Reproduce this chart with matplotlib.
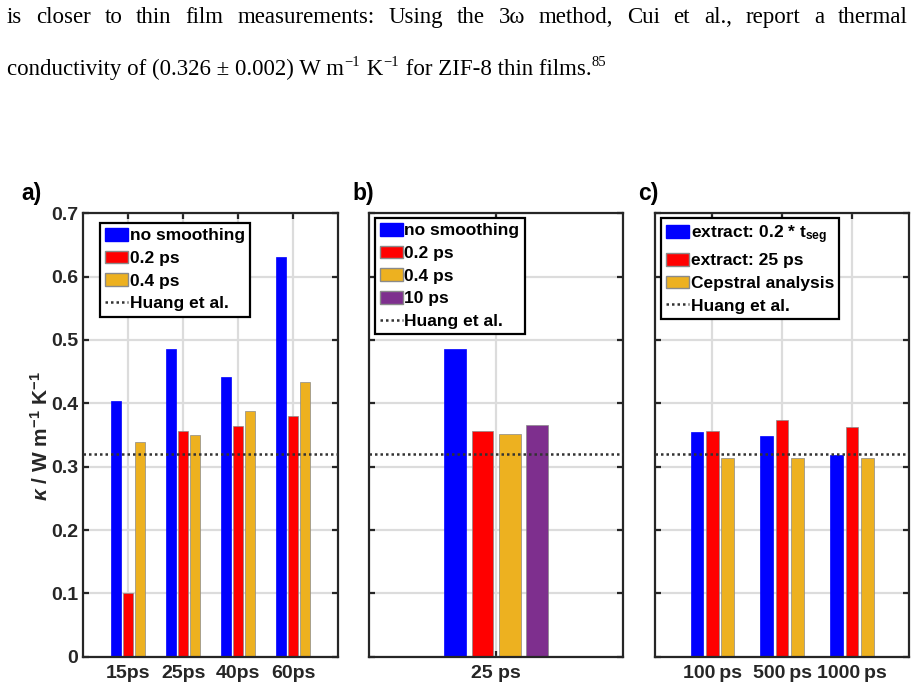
import matplotlib
matplotlib.use("Agg")
import matplotlib.pyplot as plt
import numpy as np
from matplotlib.patches import Patch
from matplotlib.lines import Line2D

plt.rcParams["font.family"] = ["Liberation Sans", "DejaVu Sans"]
plt.rcParams["font.weight"] = "bold"
plt.rcParams["mathtext.fontset"] = "custom"
plt.rcParams["mathtext.rm"] = "Liberation Sans:bold"
plt.rcParams["mathtext.it"] = "Liberation Sans:italic"
plt.rcParams["mathtext.bf"] = "Liberation Sans:bold"

# ---- data ----
labels_a = ["15ps", "25ps", "40ps", "60ps"]
no_smooth_a = [0.403, 0.486, 0.442, 0.631]
smooth02_a = [0.100, 0.356, 0.364, 0.380]
smooth04_a = [0.339, 0.350, 0.388, 0.433]

labels_b = ["25 ps"]
series_b = [0.486, 0.356, 0.351, 0.366]  # no smoothing, 0.2 ps, 0.4 ps, 10 ps

labels_c = ["100\u2009ps", "500\u2009ps", "1000\u2009ps"]
extract_frac_c = [0.354, 0.349, 0.318]
extract_25_c = [0.356, 0.373, 0.362]
cepstral_c = [0.314, 0.313, 0.314]

huang = 0.32

blue = "#0000FF"
red = "#FF0000"
yellow = "#EDB120"
purple = "#7E2F8E"
axcol = "#262626"
edge = "#8a8a8a"

W, H = 919, 693
fig = plt.figure(figsize=(W / 100, H / 100), dpi=100)
fig.patch.set_facecolor("white")

bottom = (H - 656.7) / H
height = (656.7 - 213.3) / H
ax_a = fig.add_axes([83.3 / W, bottom, 254.7 / W, height])
ax_b = fig.add_axes([369.3 / W, bottom, 254.0 / W, height])
ax_c = fig.add_axes([655.0 / W, bottom, 254.3 / W, height])


def style(ax, ticks, ticklabels, show_y):
    ax.set_ylim(0, 0.7)
    ax.set_yticks(np.arange(0, 0.71, 0.1))
    ax.set_yticklabels(["0", "0.1", "0.2", "0.3", "0.4", "0.5", "0.6", "0.7"] if show_y else [])
    ax.set_xticks(ticks)
    ax.set_xticklabels(ticklabels)
    ax.grid(True, color="#dcdcdc", linewidth=1.6)
    ax.set_axisbelow(True)
    ax.tick_params(direction="in", length=4, width=1.6, top=True, right=True,
                   labelsize=14, colors=axcol)
    ax.tick_params(axis="x", pad=6)
    ax.tick_params(axis="y", pad=3.5)
    for s in ax.spines.values():
        s.set_linewidth(1.6)
        s.set_color(axcol)
    ax.axhline(huang, color="#333333", linestyle=(0, (1, 1.2)), linewidth=1.8, zorder=4)


def make_legend(ax, handles, x, y):
    leg = ax.legend(handles=handles, loc="upper left", bbox_to_anchor=(x, y),
                    prop={"family": "Liberation Sans", "weight": "bold", "size": 12.5},
                    handlelength=1.3, handleheight=0.75, handletextpad=0.1,
                    labelspacing=0.42, borderpad=0.3, borderaxespad=0,
                    fancybox=False, framealpha=1, edgecolor="black")
    leg.get_frame().set_linewidth(1.6)
    leg.set_zorder(6)


# panel a
xa = np.arange(1, len(labels_a) + 1)
off, bw = 0.22, 0.18
ax_a.bar(xa - off, no_smooth_a, bw, color=blue, edgecolor=blue, linewidth=0.5)
ax_a.bar(xa, smooth02_a, bw, color=red, edgecolor=edge, linewidth=0.5)
ax_a.bar(xa + off, smooth04_a, bw, color=yellow, edgecolor=edge, linewidth=0.5)
ax_a.set_xlim(0.18, len(labels_a) + 0.82)
style(ax_a, xa, labels_a, True)
make_legend(ax_a, [
    Patch(facecolor=blue, edgecolor=blue, label="no smoothing"),
    Patch(facecolor=red, edgecolor=edge, label="0.2 ps"),
    Patch(facecolor=yellow, edgecolor=edge, label="0.4 ps"),
    Line2D([0], [0], color="#333333", linestyle=(0, (1, 1.2)), lw=1.8, label="Huang et al."),
], 0.066, 0.979)

# panel b
xb = np.arange(1, len(labels_b) + 1)
offs_b = [-1.5, -0.5, 0.5, 1.5]
cols_b = [blue, red, yellow, purple]
for o, v, c in zip(offs_b, series_b, cols_b):
    ax_b.bar(xb + o * 0.1075, [v], 0.0854, color=c, edgecolor=blue if c == blue else edge, linewidth=0.5)
ax_b.set_xlim(0.5, 1.5)
style(ax_b, xb, labels_b, False)
make_legend(ax_b, [
    Patch(facecolor=blue, edgecolor=blue, label="no smoothing"),
    Patch(facecolor=red, edgecolor=edge, label="0.2 ps"),
    Patch(facecolor=yellow, edgecolor=edge, label="0.4 ps"),
    Patch(facecolor=purple, edgecolor=edge, label="10 ps"),
    Line2D([0], [0], color="#333333", linestyle=(0, (1, 1.2)), lw=1.8, label="Huang et al."),
], 0.022, 0.990)

# panel c
xc = np.arange(1, len(labels_c) + 1)
ax_c.bar(xc - off, extract_frac_c, bw, color=blue, edgecolor=blue, linewidth=0.5)
ax_c.bar(xc, extract_25_c, bw, color=red, edgecolor=edge, linewidth=0.5)
ax_c.bar(xc + off, cepstral_c, bw, color=yellow, edgecolor=edge, linewidth=0.5)
ax_c.set_xlim(0.18, len(labels_c) + 0.82)
style(ax_c, xc, labels_c, False)
make_legend(ax_c, [
    Patch(facecolor=blue, edgecolor=blue, label=r"extract: 0.2 * $\mathrm{t_{seg}}$"),
    Patch(facecolor=red, edgecolor=edge, label="extract: 25 ps"),
    Patch(facecolor=yellow, edgecolor=edge, label="Cepstral analysis"),
    Line2D([0], [0], color="#333333", linestyle=(0, (1, 1.2)), lw=1.8, label="Huang et al."),
], 0.024, 0.990)

# y label and panel letters
fig.text(41 / W, 1 - 436 / H, r"$\kappa$ / W m$^{-1}$ K$^{-1}$", rotation=90,
         ha="center", va="center", fontsize=15, fontweight="bold", color=axcol)
for lab, px in [("a)", 21), ("b)", 352.5), ("c)", 638)]:
    fig.text(px / W, 1 - 200 / H, lab, fontsize=16.5, fontweight="bold",
             ha="left", va="baseline", color="black")

# paragraph text above the figure (justified first line)
serif = ["Liberation Serif", "DejaVu Serif"]
fs_txt = 16.5
renderer = fig.canvas.get_renderer()
words1 = "is closer to thin film measurements: Using the 3\u03c9 method, Cui et al., report a thermal".split()
objs = [fig.text(0, 1 - 23 / H, w, family=serif, fontsize=fs_txt, fontweight="normal",
                 va="baseline", ha="left") for w in words1]
widths = [o.get_window_extent(renderer).width for o in objs]
x0, x1 = 7.0, 908.0
gap = (x1 - x0 - sum(widths)) / (len(words1) - 1)
xpos = x0
for o, wd in zip(objs, widths):
    o.set_x(xpos / W)
    xpos += wd + gap

# second line, with small raised "-1" exponents
parts2 = [("conductivity of (0.326 \u00b1 0.002) W m", False), ("\u22121", True),
          (" K", False), ("\u22121", True), (" for ZIF-8 thin films.", False), ("85", True)]
xpos = 7.0
for txt, sup in parts2:
    t = fig.text(xpos / W, 1 - (66 if sup else 75) / H, txt, family=serif,
                 fontsize=10.5 if sup else fs_txt, fontweight="normal",
                 va="baseline", ha="left")
    xpos = t.get_window_extent(renderer).x1 + (1 if sup else 0)

fig.savefig("out.png", dpi=100, facecolor="white")
